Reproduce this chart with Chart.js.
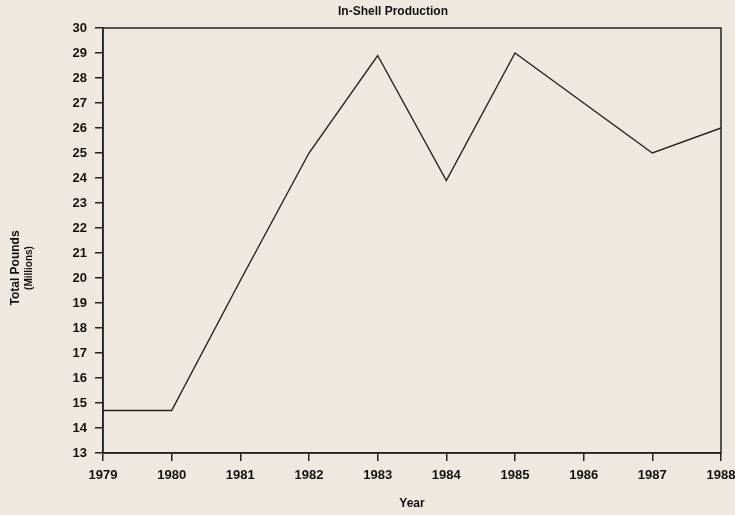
<!DOCTYPE html>
<html>
<head>
<meta charset="utf-8">
<script src="https://cdn.jsdelivr.net/npm/chart.js@4"></script>
<style>
    html, body { margin: 0; padding: 0; background: #efe8e0; }
    #wrap { width: 735px; height: 515px; }
</style>
</head>
<body>
<div id="wrap"><canvas id="chart-canvas-id"></canvas></div>
<script>
const years = ['1979', '1980', '1981', '1982', '1983', '1984', '1985', '1986', '1987', '1988'];
const production = [14.7, 14.7, 19.9, 25.0, 28.9, 23.9, 29.0, 27.0, 25.0, 26.0];
const yMin = 13;
const yMax = 30;

const FONT = "'Liberation Sans', Arial, sans-serif";
const WEIGHT = 'bold';
const INK = '#222222';
const TEXT = '#111111';

// frame round the plot and the hand placed titles
const framePlugin = {
    id: 'frame',
    afterDraw(chart) {
        const { ctx, chartArea } = chart;
        ctx.save();
        ctx.strokeStyle = INK;
        ctx.lineWidth = 1.5;
        ctx.strokeRect(chartArea.left, chartArea.top, chartArea.right - chartArea.left, chartArea.bottom - chartArea.top);

        ctx.fillStyle = TEXT;
        ctx.textAlign = 'center';
        ctx.textBaseline = 'middle';
        ctx.font = `${WEIGHT} 12px ${FONT}`;
        ctx.fillText('In-Shell Production', 393, 12);

        ctx.translate(16, 268);
        ctx.rotate(-Math.PI / 2);
        ctx.font = `${WEIGHT} 12px ${FONT}`;
        ctx.fillText('Total Pounds', 0, 0);
        ctx.font = `${WEIGHT} 10px ${FONT}`;
        ctx.fillText('(Millions)', 0, 13);
        ctx.restore();
    }
};

new Chart(
    document.getElementById('chart-canvas-id'),
    {
        type: 'line',
        plugins: [framePlugin],
        data: {
            labels: years,
            datasets: [{
                label: 'In-Shell Production',
                data: production,
                borderColor: INK,
                borderWidth: 1.4,
                pointRadius: 0,
                tension: 0,
                fill: false,
            }]
        },
        options: {
            responsive: true,
            maintainAspectRatio: false,
            animation: false,
            layout: {
                padding: { top: 28, right: 14, left: 0, bottom: 0 }
            },
            scales: {
                x: {
                    offset: false,
                    grid: { display: true, drawOnChartArea: false, drawTicks: true, tickLength: 8, color: INK, lineWidth: 1.5 },
                    border: { display: true, color: INK, width: 1.5 },
                    ticks: { color: TEXT, font: { family: FONT, size: 13, weight: WEIGHT }, padding: 7, maxRotation: 0, autoSkip: false },
                    title: { display: true, text: 'Year', color: TEXT, font: { family: FONT, size: 12, weight: WEIGHT }, padding: { top: 17 } },
                    afterFit: (scale) => {
                        scale.height = 62;
                        scale.paddingLeft = 0;
                        scale.paddingRight = 0;
                    }
                },
                y: {
                    min: yMin,
                    max: yMax,
                    grid: { display: true, drawOnChartArea: false, drawTicks: true, tickLength: 8, color: INK, lineWidth: 1.5 },
                    border: { display: true, color: INK, width: 1.5 },
                    ticks: { stepSize: 1, color: TEXT, font: { family: FONT, size: 13, weight: WEIGHT }, padding: 8 },
                    afterFit: (scale) => {
                        scale.width = 103;
                        scale.paddingTop = 0;
                        scale.paddingBottom = 0;
                    }
                }
            },
            plugins: {
                legend: { display: false },
                title: { display: false },
                tooltip: { enabled: false }
            }
        }
    }
);
</script>
</body>
</html>
